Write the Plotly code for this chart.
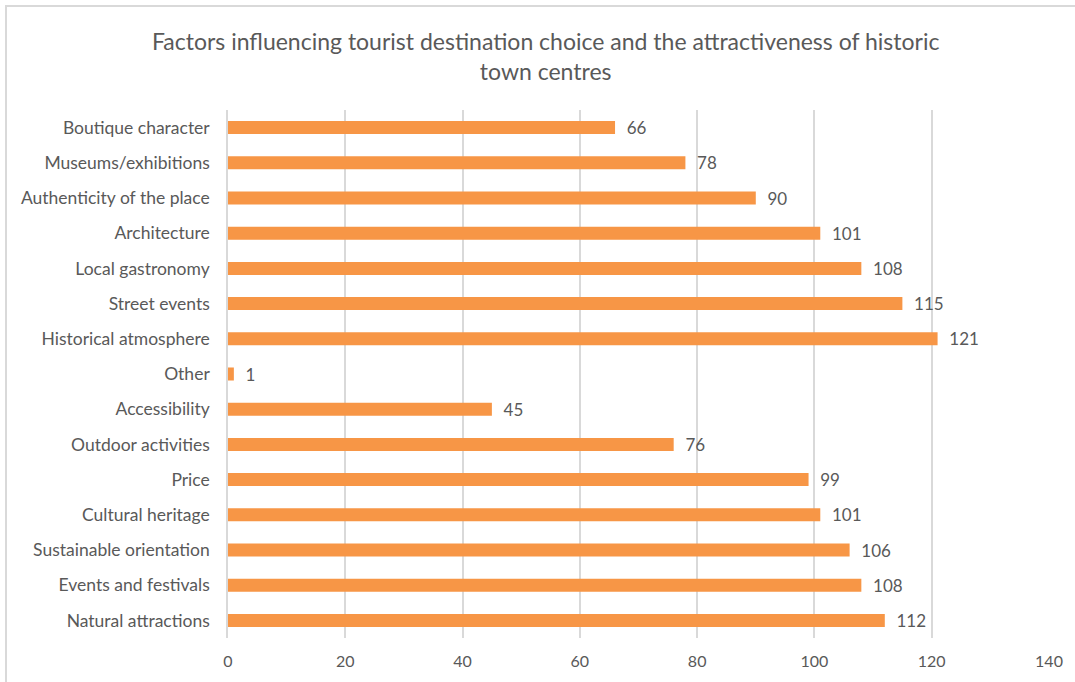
import plotly.graph_objects as go

# Categories listed bottom-to-top (Plotly draws the first category at the bottom)
factors = [
    "Natural attractions",
    "Events and festivals",
    "Sustainable orientation",
    "Cultural heritage",
    "Price",
    "Outdoor activities",
    "Accessibility",
    "Other",
    "Historical atmosphere",
    "Street events",
    "Local gastronomy",
    "Architecture",
    "Authenticity of the place",
    "Museums/exhibitions",
    "Boutique character",
]
counts = [112, 108, 106, 101, 99, 76, 45, 1, 121, 115, 108, 101, 90, 78, 66]
x_ticks = [0, 20, 40, 60, 80, 100, 120, 140]
title_text = (
    "Factors influencing tourist destination choice and the attractiveness of historic"
    "<br>town centres"
)

TEXT = "#595959"
GRID = "#D9D9D9"
BAR = "#F79646"
FONT = "Lato, Open Sans, sans-serif"

W, H = 1075, 682
L, R, T, B = 228, 26, 110, 44
pw, ph = W - L - R, H - T - B

fig = go.Figure(
    go.Bar(
        x=counts,
        y=factors,
        orientation="h",
        marker=dict(color=BAR, line=dict(width=0)),
        width=0.37,
        text=counts,
        texttemplate="  %{x}",
        textposition="outside",
        constraintext="none",
        textfont=dict(color=TEXT, size=17, family=FONT),
        cliponaxis=False,
    )
)

fig.update_layout(
    width=W,
    height=H,
    margin=dict(l=L, r=R, t=T, b=B),
    paper_bgcolor="white",
    plot_bgcolor="white",
    showlegend=False,
    font=dict(family=FONT, color=TEXT),
    xaxis=dict(
        range=[0, 140],
        tickvals=x_ticks,
        showgrid=True,
        gridcolor=GRID,
        gridwidth=1.5,
        zeroline=False,
        showline=False,
        tickfont=dict(size=16, color=TEXT),
        ticks="",
        ticklabelstandoff=12,
    ),
    yaxis=dict(
        showgrid=False,
        zeroline=False,
        showline=True,
        linecolor=GRID,
        linewidth=1.5,
        ticks="",
        tickfont=dict(size=17.5, color=TEXT),
        ticklabelstandoff=13,
        range=[-0.5, len(factors) - 0.5],
    ),
)

# Two-line chart title, centred over the chart
fig.add_annotation(
    text=title_text,
    xref="paper",
    yref="paper",
    x=(545.5 - L) / pw,
    y=(T + ph - 56) / ph,
    xanchor="center",
    yanchor="middle",
    showarrow=False,
    align="center",
    font=dict(size=23, color=TEXT, family=FONT),
)

# Light grey chart frame (top and left edges visible in the crop)
fig.add_shape(
    type="rect",
    xref="paper",
    yref="paper",
    x0=(6 - L) / pw,
    x1=(W + 10 - L) / pw,
    y0=(T + ph - (H + 10)) / ph,
    y1=(T + ph - 6) / ph,
    line=dict(color=GRID, width=2),
    fillcolor="rgba(0,0,0,0)",
    layer="below",
)

fig.write_html(
    "out.html",
    config={"displayModeBar": False},
    post_script="document.body.style.margin='0';",
)
